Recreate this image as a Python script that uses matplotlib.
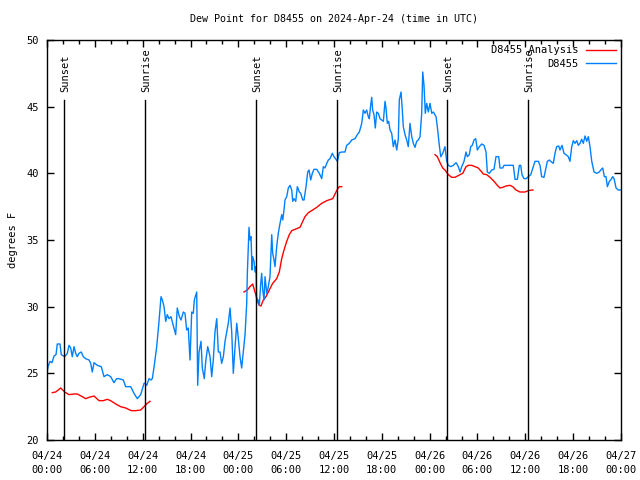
import matplotlib
matplotlib.use("Agg")
import matplotlib.pyplot as plt
import numpy as np

plt.rcParams['font.family'] = ['DejaVu Sans Mono']
plt.rcParams['font.size'] = 7

# hours since 2024-04-24 00:00 UTC
obs_hours = [0.0, 0.13, 0.38, 0.63, 0.88, 1.13, 1.29, 1.63, 1.79, 2.22, 2.55, 2.76, 2.97, 3.17, 3.39, 3.6, 3.8, 4.01,
             4.3, 4.55, 4.85, 5.27, 5.48, 5.68, 5.9, 6.31, 6.81, 7.15, 7.56, 7.99, 8.4, 8.74, 9.03, 9.57, 9.87, 10.5,
             10.91, 11.33, 11.75, 12.17, 12.29, 12.51, 12.8, 13.05, 13.21, 13.46, 13.76, 14.05, 14.3, 14.47, 14.68,
             14.89, 15.09, 15.3, 15.55, 15.84, 16.14, 16.34, 16.6, 16.81, 17.1, 17.31, 17.52, 17.72, 17.94, 18.15,
             18.35, 18.48, 18.78, 18.9, 19.07, 19.32, 19.48, 19.73, 19.91, 20.16, 20.45, 20.66, 20.86, 21.07, 21.29,
             21.49, 21.7, 21.91, 22.12, 22.33, 22.54, 22.74, 22.96, 23.17, 23.37, 23.58, 23.8, 24.0, 24.21, 24.42,
             24.62, 24.84, 25.05, 25.13, 25.34, 25.46, 25.59, 25.72, 25.8, 25.97, 26.09, 26.22, 26.3, 26.5, 26.63,
             26.81, 26.93, 27.06, 27.22, 27.35, 27.56, 27.76, 27.97, 28.19, 28.31, 28.48, 28.6, 28.81, 29.01, 29.23,
             29.44, 29.57, 29.73, 29.85, 30.07, 30.27, 30.48, 30.7, 30.82, 30.98, 31.2, 31.4, 31.65, 31.82, 32.08,
             32.24, 32.49, 32.7, 32.87, 33.08, 33.28, 33.49, 33.83, 34.16, 34.46, 34.66, 34.87, 35.09, 35.29, 35.5,
             35.79, 36.0, 36.25, 36.42, 36.67, 36.97, 37.38, 37.59, 37.92, 38.22, 38.63, 38.92, 39.18, 39.48, 39.68,
             39.89, 40.1, 40.3, 40.43, 40.6, 40.73, 40.85, 41.02, 41.18, 41.36, 41.56, 41.77, 41.98, 42.19, 42.4,
             42.52, 42.69, 42.86, 43.03, 43.24, 43.44, 43.65, 43.87, 44.07, 44.19, 44.41, 44.57, 44.69, 44.91, 45.12,
             45.32, 45.53, 45.75, 45.95, 46.16, 46.37, 46.58, 46.79, 47.0, 47.13, 47.29, 47.45, 47.63, 47.83, 48.04,
             48.26, 48.46, 48.8, 48.96, 49.21, 49.39, 49.64, 49.92, 50.14, 50.34, 50.64, 50.97, 51.31, 51.6, 51.81,
             52.02, 52.31, 52.56, 52.72, 52.97, 53.15, 53.35, 53.56, 53.78, 53.98, 54.23, 54.53, 54.82, 55.07, 55.23,
             55.48, 55.78, 56.07, 56.32, 56.66, 56.82, 57.16, 57.33, 57.86, 58.49, 58.71, 59.0, 59.25, 59.42, 59.58,
             59.83, 60.09, 60.38, 60.68, 61.0, 61.21, 61.63, 61.84, 62.05, 62.34, 62.59, 62.76, 63.01, 63.18, 63.51,
             63.72, 63.93, 64.19, 64.35, 64.6, 64.85, 65.1, 65.39, 65.6, 65.82, 66.02, 66.23, 66.45, 66.65, 66.86,
             67.07, 67.27, 67.49, 67.7, 67.9, 68.11, 68.33, 68.62, 68.96, 69.28, 69.46, 69.71, 69.91, 70.12, 70.29,
             70.54, 70.71, 70.96, 71.13, 71.38, 71.66, 72.0]
obs_dewpt = [25.0, 25.5, 25.9, 25.8, 26.3, 26.4, 27.2, 27.2, 26.4, 26.25, 26.5, 27.1, 26.9, 26.25, 27.0, 26.5, 26.25, 26.5,
             26.6, 26.25, 26.1, 26.0, 25.75, 25.1, 25.8, 25.6, 25.5, 24.75, 24.9, 24.75, 24.3, 24.6, 24.6, 24.5, 24.0, 24.0,
             23.5, 23.1, 23.4, 24.25, 24.25, 24.1, 24.6, 24.5, 24.6, 25.6, 27.0, 28.9, 30.75, 30.5, 30.0,
             28.9, 29.4, 29.1, 29.25, 28.6, 27.9, 29.9, 29.25, 29.0, 29.6, 29.5, 28.25, 28.4, 26.0, 29.6,
             29.5, 30.5, 31.1, 24.1, 26.6, 27.4, 25.4, 24.6, 25.9, 27.0, 26.25, 24.75, 26.0, 28.1, 29.1,
             26.6, 26.6, 25.75, 26.25, 27.4, 28.1, 28.75, 29.9, 28.1, 25.0, 26.9, 28.75, 27.6, 26.25, 25.4,
             26.6, 27.9, 30.25, 32.5, 35.95, 35.0, 35.25, 32.75, 33.75, 33.4, 32.6, 33.0, 30.25, 30.5, 30.1,
             31.75, 32.5, 31.25, 30.5, 32.25, 31.0, 31.5, 32.25, 35.4, 34.0, 33.5, 33.0, 34.5, 35.5, 36.25,
             36.9, 36.5, 37.25, 38.0, 38.25, 38.9, 39.1, 38.75, 37.9, 38.1, 37.9, 39.0, 38.6, 38.5, 38.0,
             38.0, 39.0, 40.1, 40.25, 39.5, 40.0, 40.3, 40.3, 40.0, 39.6, 40.5, 40.4, 40.75, 41.0, 41.1,
             41.5, 41.25, 41.05, 40.9, 41.55, 41.6, 41.6, 42.1, 42.25, 42.5, 42.6, 42.9, 43.1, 43.75, 44.75,
             44.5, 44.75, 44.25, 44.1, 45.1, 45.7, 44.75, 44.4, 43.4, 44.6, 44.5, 44.1, 44.0, 43.9, 45.4,
             44.9, 43.75, 43.9, 43.25, 43.0, 42.0, 42.5, 41.75, 42.6, 45.5, 46.1, 44.75, 43.5, 42.9, 42.5,
             42.0, 43.75, 42.75, 42.25, 41.95, 42.4, 42.5, 42.75, 44.5, 47.6, 46.6, 44.5, 45.25, 44.6, 45.25,
             44.5, 44.6, 44.25, 43.5, 42.1, 41.25, 41.5, 42.0, 40.9, 40.6, 40.5, 40.6, 40.8, 40.5, 40.1,
             40.5, 40.9, 41.6, 41.25, 41.4, 42.0, 42.1, 42.5, 42.6, 41.75, 42.0, 42.2, 42.1, 41.6, 40.1,
             40.0, 40.25, 40.3, 41.25, 41.25, 40.4, 40.4, 40.6, 40.6, 40.6, 39.55, 39.55, 40.6, 40.6, 39.9,
             39.6, 39.6, 39.75, 39.9, 40.5, 40.9, 40.9, 40.6, 39.75, 39.7, 40.4, 40.9, 41.0, 40.9, 40.75,
             41.5, 42.0, 42.05, 41.75, 42.1, 41.5, 41.4, 41.25, 40.9, 42.0, 42.45, 42.25, 42.45, 42.1, 42.25,
             42.55, 42.25, 42.8, 42.4, 42.75, 42.0, 40.9, 40.1, 40.0, 40.1, 40.25, 40.4, 39.75, 39.75, 39.0,
             39.4, 39.5, 39.75, 39.6, 38.9, 38.75, 38.75]

# analysis: three separate runs, NaN marks the gaps
ana_hours = [0.66, 1.09, 1.72, 2.22, 2.76, 3.39, 3.8, 4.43, 4.85, 5.27, 5.9, 6.52, 7.06, 7.56, 7.99, 8.62, 9.24,
             9.87, 10.57, 11.13, 11.75, 12.17, 12.58, 12.92, 18.0,
             24.71, 25.13, 25.46, 25.8, 26.09, 26.38, 26.63, 26.84, 27.13, 27.47, 27.88, 28.31, 28.81, 29.14,
             29.44, 29.73, 30.07, 30.39, 30.7, 31.11, 31.74, 32.08, 32.36, 32.78, 33.2, 33.83, 34.46, 35.09,
             35.84, 36.13, 36.42, 36.67, 36.97, 42.0,
             48.67, 48.96, 49.3, 49.64, 49.92, 50.34, 50.76, 51.18, 51.81, 52.15, 52.56, 52.85, 53.28, 53.69,
             54.1, 54.53, 54.73, 55.16, 55.57, 55.99, 56.49, 56.82, 57.16, 57.58, 58.08, 58.42, 58.83, 59.33,
             59.96, 60.38, 60.8, 60.96]
ana_dewpt = [23.55, 23.6, 23.9, 23.6, 23.4, 23.45, 23.45, 23.25, 23.1, 23.2, 23.3, 22.95, 22.95, 23.05, 22.95, 22.7,
             22.5, 22.4, 22.2, 22.2, 22.25, 22.5, 22.75, 22.9, np.nan,
             31.1, 31.25, 31.5, 31.7, 31.1, 30.5, 30.1, 30.05, 30.5, 30.75, 31.25, 31.75, 32.1, 32.6,
             33.6, 34.25, 34.9, 35.4, 35.7, 35.8, 35.95, 36.4, 36.75, 37.05, 37.2, 37.45, 37.75, 37.95,
             38.1, 38.45, 38.8, 39.0, 39.0, np.nan,
             41.4, 41.25, 40.8, 40.4, 40.25, 39.9, 39.7, 39.7, 39.9, 40.0, 40.5, 40.6, 40.6, 40.5,
             40.4, 40.1, 39.95, 39.9, 39.7, 39.45, 39.1, 38.9, 38.95, 39.05, 39.1, 39.0, 38.75, 38.6,
             38.6, 38.7, 38.75, 38.75]

sun_hours = [2.13, 12.29, 26.22, 36.38, 50.18, 60.34]
sun_names = ["Sunset", "Sunrise", "Sunset", "Sunrise", "Sunset", "Sunrise"]

tick_labels = ["04/24\n00:00", "04/24\n06:00", "04/24\n12:00", "04/24\n18:00",
               "04/25\n00:00", "04/25\n06:00", "04/25\n12:00", "04/25\n18:00",
               "04/26\n00:00", "04/26\n06:00", "04/26\n12:00", "04/26\n18:00", "04/27\n00:00"]

fig = plt.figure(figsize=(6.4, 4.8), dpi=100)
ax = fig.add_axes([47 / 640, 40 / 480, 574 / 640, 400 / 480])

ax.plot(ana_hours, ana_dewpt, color="#ff0000", lw=1, label="D8455 Analysis")
ax.plot(obs_hours, obs_dewpt, color="#0080ff", lw=1, label="D8455")

for h, name in zip(sun_hours, sun_names):
    ax.plot([h, h], [20, 45.5], color="black", lw=1)
    ax.text(h + 0.1, 46.1, name, rotation=90, ha="center", va="bottom", fontsize=7.5)

ax.set_xlim(0, 72)
ax.set_ylim(20, 50)
ax.set_xticks(np.arange(0, 73, 6))
ax.set_xticklabels(tick_labels, linespacing=1.45)
ax.set_xticks(np.arange(0, 73, 2), minor=True)
ax.set_yticks(np.arange(20, 51, 5))
ax.tick_params(which="both", direction="in", top=True, right=True, width=1, labelsize=7.5)
ax.tick_params(which="major", length=5)
ax.tick_params(axis="x", which="major", pad=8)
ax.tick_params(axis="y", which="major", pad=6)
ax.tick_params(which="minor", length=3)
for s in ax.spines.values():
    s.set_linewidth(1)

ax.set_ylabel("degrees F", labelpad=6, fontsize=7.5)
ax.set_title("Dew Point for D8455 on 2024-Apr-24 (time in UTC)", fontsize=7.2, pad=13)
ax.legend(loc="upper right", frameon=False, markerfirst=False, handlelength=2.9,
          handletextpad=0.7, borderaxespad=0.2, borderpad=0.3, labelspacing=0.35, fontsize=7.5)

fig.savefig("out.png", dpi=100)
